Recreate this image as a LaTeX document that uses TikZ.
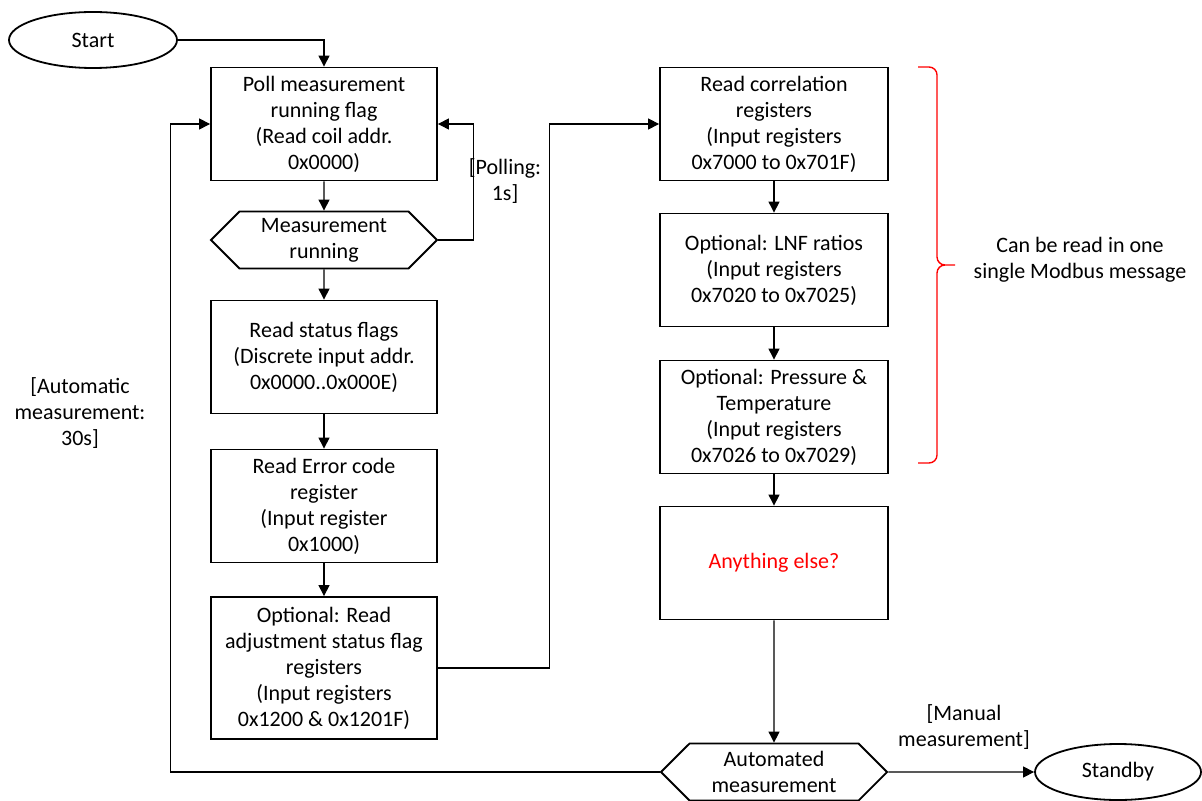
\documentclass[tikz,border=0pt]{standalone}
\usepackage{fontspec}
\setmainfont{Carlito}
\usetikzlibrary{arrows.meta,calc,shapes.geometric,shapes.symbols}
\definecolor{noteRed}{HTML}{FF0000}
\tikzset{
  flow arrow/.style={-{Triangle[length=5.5pt,width=5.5pt]},draw=black,line width=0.55pt},
  step node/.style={rectangle,draw=black,line width=0.9pt,fill=white,align=center,
    minimum width=113pt,minimum height=56.5pt,inner sep=2pt,
    font=\fontsize{11}{13}\selectfont},
  check node/.style={signal,signal to=west and east,signal pointer angle=90,
    draw=black,line width=0.9pt,align=center,minimum width=113pt,
    minimum height=28.5pt,inner sep=1pt,font=\fontsize{11}{13}\selectfont},
  end node/.style={ellipse,draw=black,line width=0.9pt,align=center,
    minimum width=84pt,minimum height=28pt,inner sep=1pt,
    font=\fontsize{11}{13}\selectfont},
  path label/.style={align=center,inner sep=1pt,font=\fontsize{11}{13}\selectfont}
}

\begin{document}
\begin{tikzpicture}[x=0.5pt,y=-0.5pt]
    \useasboundingbox (0,0) rectangle (1202,801);
    % left column
    \node[end node] (start) at (93,40) {Start};
    \node[step node] (poll) at (324,124)
      {Poll measurement\\running flag\\(Read coil addr.\\0x0000)};
    \node[check node] (running) at (324,240) {Measurement\\running};
    \node[step node] (status) at (324,357)
      {Read status flags\\(Discrete input addr.\\0x0000..0x000E)};
    \node[step node] (errcode) at (324,506)
      {Read Error code\\register\\(Input register\\0x1000)};
    \node[step node,minimum height=71pt] (adjust) at (324,668)
      {Optional: Read\\adjustment status flag\\registers\\(Input registers\\0x1200 \& 0x1201F)};
    % right column
    \node[step node,minimum width=114pt] (corr) at (774,124)
      {Read correlation\\registers\\(Input registers\\0x7000 to 0x701F)};
    \node[step node,minimum width=114pt] (lnf) at (774,270)
      {Optional: LNF ratios\\(Input registers\\0x7020 to 0x7025)};
    \node[step node,minimum width=114pt] (press) at (774,417)
      {Optional: Pressure \&\\Temperature\\(Input registers\\0x7026 to 0x7029)};
    \node[step node,minimum width=114pt,text=noteRed] (other) at (774,563)
      {Anything else?};
    \node[check node] (auto) at (774,772) {Automated\\measurement};
    \node[end node,minimum width=83pt] (standby) at (1118,772) {Standby};
    % labels
    \node[path label] (pollLbl) at (505,181) {[Polling:\\1s]};
    \node[path label] (autoLbl) at (80,413) {[Automatic\\measurement:\\30s]};
    \node[path label] (manualLbl) at (964,727) {[Manual\\measurement]};
    \node[path label] (oneMsg) at (1080,260) {Can be read in one\\single Modbus message};
    % brace
    \coordinate (braceTop) at (918,67);
    \coordinate (braceTip) at (955,265);
    \coordinate (braceBot) at (918,463);
    \draw[noteRed,line width=0.7pt,rounded corners=4pt]
      (braceTop) -- ++(19,0) |- (braceTip)
      (braceTip) -| ($(braceBot)+(19,0)$) -- (braceBot);
    % connectors
    \draw[flow arrow] (start.east) -| (poll.north);
    \draw[flow arrow] (poll) -- (running);
    \draw[flow arrow] (running.east) -- ++(35,0) |- (poll.east);
    \draw[flow arrow] (running) -- (status);
    \draw[flow arrow] (status) -- (errcode);
    \draw[flow arrow] (errcode) -- (adjust);
    \draw[flow arrow] (adjust.east) -- ++(112,0) |- (corr.west);
    \draw[flow arrow] (corr) -- (lnf);
    \draw[flow arrow] (lnf) -- (press);
    \draw[flow arrow] (press) -- (other);
    \draw[flow arrow] (other) -- (auto);
    \draw[flow arrow] (auto.west) -- ++(-489,0) |- (poll.west);
    \draw[flow arrow] (auto) -- (standby);
\end{tikzpicture}
\end{document}
